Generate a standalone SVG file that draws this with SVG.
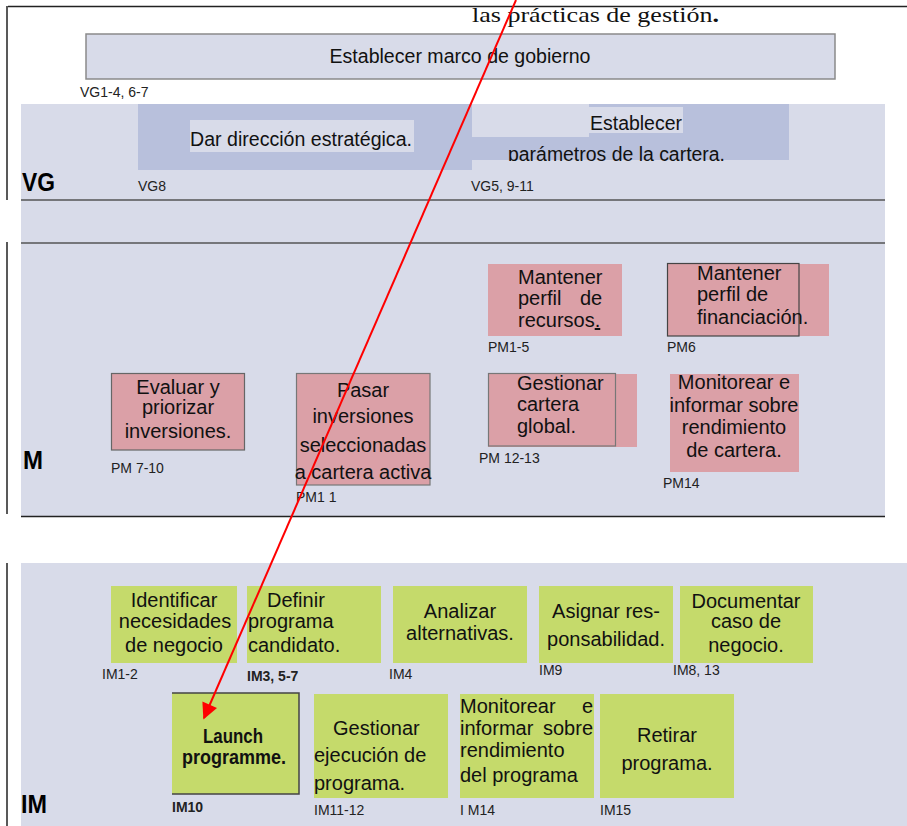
<svg xmlns="http://www.w3.org/2000/svg" width="907" height="826" viewBox="0 0 907 826">
<style>
.band{fill:#d8dbe9}
.dark{fill:#b8c0dc}
.pink{fill:#dba0a7}
.green{fill:#c5da6b}
.t{font-family:"Liberation Sans",Arial,sans-serif;font-size:20px;fill:#111}
.c{text-anchor:middle}
.lbl{font-family:"Liberation Sans",Arial,sans-serif;font-size:14px;fill:#222}
.big{font-family:"Liberation Sans",Arial,sans-serif;font-size:25px;font-weight:bold;fill:#000}
.sep{stroke:#555;stroke-width:1.3}
.edge{stroke:#222;stroke-width:1.5}
</style>
<defs>
<marker id="ah" viewBox="0 0 10 10" refX="9" refY="5" markerWidth="9" markerHeight="8" markerUnits="strokeWidth" orient="auto">
<path d="M0,0 L10,5 L0,10 z" fill="#ff0000"/>
</marker>
<clipPath id="clipPar"><rect x="472" y="104" width="317" height="57"/></clipPath>
</defs>
<rect width="907" height="826" fill="#ffffff"/>

<g id="frame">
<line x1="8" y1="6.5" x2="907" y2="6.5" class="edge"/>
<line x1="7" y1="6" x2="7" y2="200" class="edge"/>
<line x1="7" y1="242" x2="7" y2="514" class="edge"/>
<line x1="7" y1="563" x2="7" y2="826" class="edge"/>
<text x="472" y="22" font-family="'Liberation Serif','Times New Roman',serif" font-size="22" fill="#111" textLength="247" lengthAdjust="spacingAndGlyphs">las prácticas de gestión<tspan font-weight="bold">.</tspan></text>
</g>

<g id="bands">
<rect x="21" y="104" width="864" height="413" class="band"/>
<line x1="21" y1="200" x2="885" y2="200" class="sep"/>
<line x1="21" y1="243" x2="885" y2="243" class="sep" stroke="#777"/>
<line x1="21" y1="516.5" x2="885" y2="516.5" stroke="#222" stroke-width="1.5"/>
<rect x="21" y="563" width="886" height="263" class="band"/>
<text x="22" y="191" class="big" textLength="33" lengthAdjust="spacingAndGlyphs">VG</text>
<text x="23" y="469" class="big" textLength="20" lengthAdjust="spacingAndGlyphs">M</text>
<text x="21" y="813" class="big" textLength="26" lengthAdjust="spacingAndGlyphs">IM</text>
</g>

<g id="n-marco">
<rect x="86" y="34" width="749" height="45" fill="#d8dbe9" stroke="#8a8a8a" stroke-width="1.5"/>
<text x="460" y="63" class="t c" textLength="261" lengthAdjust="spacingAndGlyphs">Establecer marco de gobierno</text>
<text x="80" y="97" class="lbl">VG1-4, 6-7</text>
</g>

<g id="n-direccion">
<rect x="138" y="104" width="334" height="66" class="dark"/>
<rect x="190" y="120" width="224" height="32" class="band"/>
<text x="301" y="146" class="t c" textLength="222" lengthAdjust="spacingAndGlyphs">Dar dirección estratégica.</text>
<text x="138" y="191" class="lbl">VG8</text>
</g>

<g id="n-parametros">
<rect x="472" y="104" width="317" height="56" class="dark"/>
<rect x="472" y="104" width="117" height="33" class="band"/>
<rect x="589" y="107" width="94" height="26" class="band"/>
<text x="590" y="130" class="t" textLength="92" lengthAdjust="spacingAndGlyphs">Establecer</text>
<text x="508" y="161" class="t" textLength="217" lengthAdjust="spacingAndGlyphs" clip-path="url(#clipPar)">parámetros de la cartera.</text>
<text x="471" y="191" class="lbl">VG5, 9-11</text>
</g>

<g id="n-recursos">
<rect x="488" y="264" width="134" height="72" class="pink"/>
<text class="t"><tspan x="518" y="284">Mantener</tspan><tspan x="518" y="305">perfil</tspan><tspan x="580" y="305">de</tspan><tspan x="518" y="327">recursos<tspan text-decoration="underline">.</tspan></tspan></text>
<text x="488" y="352" class="lbl">PM1-5</text>
</g>

<g id="n-financiacion">
<rect x="667" y="264" width="162" height="72" class="pink"/>
<rect x="667.5" y="263.5" width="131.5" height="72.5" fill="none" stroke="#444" stroke-width="1.2"/>
<text class="t"><tspan x="697" y="280">Mantener</tspan><tspan x="697" y="301">perfil de</tspan><tspan x="697" y="324">financiación.</tspan></text>
<text x="667" y="352" class="lbl">PM6</text>
</g>

<g id="n-evaluar">
<rect x="111.5" y="373.5" width="133" height="76.5" class="pink" stroke="#666" stroke-width="1.2"/>
<text class="t c"><tspan x="178" y="394">Evaluar y</tspan><tspan x="178" y="414">priorizar</tspan><tspan x="178" y="438">inversiones.</tspan></text>
<text x="111" y="473" class="lbl">PM 7-10</text>
</g>

<g id="n-pasar">
<rect x="296.5" y="373.5" width="133.5" height="111.5" class="pink" stroke="#777" stroke-width="1.2"/>
<text class="t c"><tspan x="363" y="397">Pasar</tspan><tspan x="363" y="423">inversiones</tspan><tspan x="363" y="452">seleccionadas</tspan><tspan x="363" y="479">a cartera activa</tspan></text>
<text x="296" y="502" class="lbl">PM1 1</text>
</g>

<g id="n-cartera">
<rect x="488" y="374" width="149" height="73" class="pink"/>
<rect x="488.5" y="373.5" width="127" height="72.5" fill="none" stroke="#777" stroke-width="1.2"/>
<text class="t"><tspan x="517" y="390">Gestionar</tspan><tspan x="517" y="411">cartera</tspan><tspan x="517" y="433">global.</tspan></text>
<text x="479" y="463" class="lbl">PM 12-13</text>
</g>

<g id="n-monitorear-cartera">
<rect x="670" y="374" width="129" height="98" class="pink"/>
<text class="t c"><tspan x="734" y="389">Monitorear e</tspan><tspan x="734" y="412">informar sobre</tspan><tspan x="734" y="434">rendimiento</tspan><tspan x="734" y="457">de cartera.</tspan></text>
<text x="663" y="488" class="lbl">PM14</text>
</g>

<g id="n-identificar">
<rect x="111" y="586" width="126" height="77" class="green"/>
<text class="t c"><tspan x="174" y="607">Identificar</tspan><tspan x="175" y="628">necesidades</tspan><tspan x="174" y="652">de negocio</tspan></text>
<text x="102" y="679" class="lbl">IM1-2</text>
</g>

<g id="n-definir">
<rect x="247" y="586" width="134" height="77" class="green"/>
<text class="t"><tspan x="267" y="607">Definir</tspan><tspan x="248" y="628">programa</tspan><tspan x="248" y="652">candidato.</tspan></text>
<text x="247" y="681" class="lbl" font-weight="bold" fill="#333">IM3, 5-7</text>
</g>

<g id="n-analizar">
<rect x="393" y="586" width="134" height="77" class="green"/>
<text class="t c"><tspan x="460" y="618">Analizar</tspan><tspan x="460" y="640">alternativas.</tspan></text>
<text x="389" y="679" class="lbl">IM4</text>
</g>

<g id="n-asignar">
<rect x="539" y="586" width="134" height="77" class="green"/>
<text class="t c"><tspan x="606" y="618">Asignar res-</tspan><tspan x="606" y="646">ponsabilidad.</tspan></text>
<text x="539" y="675" class="lbl">IM9</text>
</g>

<g id="n-documentar">
<rect x="680" y="586" width="133" height="77" class="green"/>
<text class="t c"><tspan x="746" y="608">Documentar</tspan><tspan x="746" y="628">caso de</tspan><tspan x="746" y="652">negocio.</tspan></text>
<text x="673" y="675" class="lbl">IM8, 13</text>
</g>

<g id="n-launch">
<rect x="172" y="693" width="127" height="101" class="green"/>
<path d="M172,693 H299 V794 H172" fill="none" stroke="#444" stroke-width="1.5"/>
<text x="233" y="743" class="t c" font-weight="bold" fill="#2a2a2a" font-size="20" textLength="60" lengthAdjust="spacingAndGlyphs">Launch</text>
<text x="234" y="764" class="t c" font-weight="bold" fill="#2a2a2a" font-size="20" textLength="104" lengthAdjust="spacingAndGlyphs">programme.</text>
<text x="172" y="812" class="lbl" font-weight="bold" fill="#333">IM10</text>
</g>

<g id="n-gestionar">
<rect x="314" y="694" width="134" height="104" class="green"/>
<text class="t"><tspan x="333" y="735">Gestionar</tspan><tspan x="314" y="762">ejecución de</tspan><tspan x="314" y="790">programa.</tspan></text>
<text x="314" y="815" class="lbl">IM11-12</text>
</g>

<g id="n-monitorear-programa">
<rect x="460" y="694" width="134" height="104" class="green"/>
<text class="t"><tspan x="460" y="713">Monitorear</tspan><tspan x="582" y="713">e</tspan><tspan x="460" y="735">informar</tspan><tspan x="543" y="735">sobre</tspan><tspan x="460" y="757">rendimiento</tspan><tspan x="460" y="782">del programa</tspan></text>
<text x="460" y="815" class="lbl">I M14</text>
</g>

<g id="n-retirar">
<rect x="600" y="694" width="134" height="104" class="green"/>
<text class="t c"><tspan x="667" y="742">Retirar</tspan><tspan x="667" y="770">programa.</tspan></text>
<text x="600" y="815" class="lbl">IM15</text>
</g>

<g id="connectors">
<line x1="516" y1="0" x2="204" y2="718" stroke="#ff0000" stroke-width="2" marker-end="url(#ah)"/>
</g>
</svg>
